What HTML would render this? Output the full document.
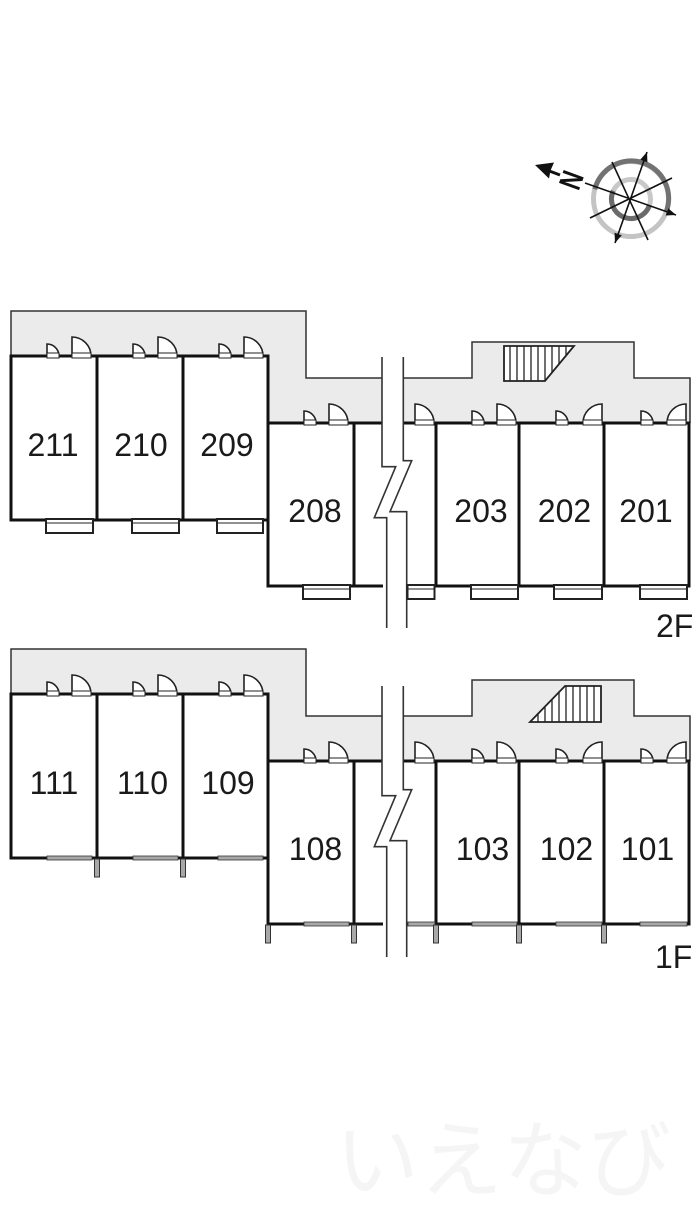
<!DOCTYPE html>
<html><head><meta charset="utf-8"><style>
html,body{margin:0;padding:0;background:#fff;width:700px;height:1208px;overflow:hidden}
svg{display:block}
.lbl{font-family:"Liberation Sans",sans-serif;font-size:32px;fill:#1a1a1a;text-anchor:middle}
.fl{font-family:"Liberation Sans",sans-serif;font-size:32px;fill:#1a1a1a}
</style></head><body>
<svg width="700" height="1208" viewBox="0 0 700 1208" xmlns="http://www.w3.org/2000/svg">
<defs>
<marker id="ah" viewBox="0 0 10 10" refX="10" refY="5" markerWidth="6" markerHeight="6" orient="auto-start-reverse"><path d="M0,1 L10,5 L0,9 z" fill="#111"/></marker>
<clipPath id="st2"><polygon points="504,346 574,346 545,381 504,381"/></clipPath>
<clipPath id="st1"><polygon points="565,686 601,686 601,722 530,722"/></clipPath>
<g id="base">
 <polygon points="11,311 306,311 306,378 382,378 382,423 268,423 268,356 11,356" fill="#ebebeb"/>
 <polygon points="403,378 472,378 472,342 634,342 634,378 690,378 690,423 403,423" fill="#ebebeb"/>
 <polyline points="11,357 11,311 306,311 306,378 383,378" fill="none" stroke="#333" stroke-width="1.5"/>
 <polyline points="403,378 472,378 472,342 634,342 634,378 690,378 690,423" fill="none" stroke="#333" stroke-width="1.5"/>
 <g stroke="#111" stroke-width="3" fill="none">
  <rect x="11" y="356" width="257" height="164"/>
  <line x1="97" y1="356" x2="97" y2="520"/>
  <line x1="183" y1="356" x2="183" y2="520"/>
  <line x1="268" y1="520" x2="268" y2="586"/>
  <line x1="266.5" y1="423" x2="383" y2="423"/>
  <line x1="403" y1="423" x2="690.5" y2="423"/>
  <line x1="266.5" y1="586" x2="383" y2="586"/>
  <line x1="403" y1="586" x2="690.5" y2="586"/>
  <line x1="354" y1="423" x2="354" y2="586"/>
  <line x1="436" y1="423" x2="436" y2="586"/>
  <line x1="519" y1="423" x2="519" y2="586"/>
  <line x1="604" y1="423" x2="604" y2="586"/>
  <line x1="689" y1="423" x2="689" y2="586"/>
 </g>
 <g fill="#fff" stroke="#222" stroke-width="1.6">
  <path d="M47 356 V344 A12 12 0 0 1 59 356 Z"/><rect x="47" y="353" width="12" height="5" stroke-width="1"/>
  <path d="M72 356 V337 A19 19 0 0 1 91 356 Z"/><rect x="72" y="353" width="19" height="5" stroke-width="1"/>
  <path d="M133 356 V344 A12 12 0 0 1 145 356 Z"/><rect x="133" y="353" width="12" height="5" stroke-width="1"/>
  <path d="M158 356 V337 A19 19 0 0 1 177 356 Z"/><rect x="158" y="353" width="19" height="5" stroke-width="1"/>
  <path d="M219 356 V344 A12 12 0 0 1 231 356 Z"/><rect x="219" y="353" width="12" height="5" stroke-width="1"/>
  <path d="M244 356 V337 A19 19 0 0 1 263 356 Z"/><rect x="244" y="353" width="19" height="5" stroke-width="1"/>
  <path d="M304 423 V411 A12 12 0 0 1 316 423 Z"/><rect x="304" y="420" width="12" height="5" stroke-width="1"/>
  <path d="M329 423 V404 A19 19 0 0 1 348 423 Z"/><rect x="329" y="420" width="19" height="5" stroke-width="1"/>
  <path d="M415 423 V404 A19 19 0 0 1 434 423 Z"/><rect x="415" y="420" width="19" height="5" stroke-width="1"/>
  <path d="M472 423 V411 A12 12 0 0 1 484 423 Z"/><rect x="472" y="420" width="12" height="5" stroke-width="1"/>
  <path d="M497 423 V404 A19 19 0 0 1 516 423 Z"/><rect x="497" y="420" width="19" height="5" stroke-width="1"/>
  <path d="M556 423 V411 A12 12 0 0 1 568 423 Z"/><rect x="556" y="420" width="12" height="5" stroke-width="1"/>
  <path d="M602 423 V404 A19 19 0 0 0 583 423 Z"/><rect x="583" y="420" width="19" height="5" stroke-width="1"/>
  <path d="M641 423 V411 A12 12 0 0 1 653 423 Z"/><rect x="641" y="420" width="12" height="5" stroke-width="1"/>
  <path d="M686 423 V404 A19 19 0 0 0 667 423 Z"/><rect x="667" y="420" width="19" height="5" stroke-width="1"/>
 </g>
</g>
<g id="brk">
 <polygon points="382,357 382,466.7 395.7,466.7 374.3,517.7 386.7,517.7 386.7,628 406.7,628 406.7,511.7 390,511.7 411.7,460.7 403.3,460.7 403.3,357" fill="#fff"/>
 <polyline points="382,357 382,466.7 395.7,466.7 374.3,517.7 386.7,517.7 386.7,628" fill="none" stroke="#333" stroke-width="1.6"/>
 <polyline points="403.3,357 403.3,460.7 411.7,460.7 390,511.7 406.7,511.7 406.7,628" fill="none" stroke="#333" stroke-width="1.6"/>
</g>
</defs>

<rect width="700" height="1208" fill="#fff"/>

<!-- watermark -->
<text x="335" y="1190" font-family="'Liberation Sans','Noto Sans CJK JP',sans-serif" font-size="84" fill="#f5f5f5">いえなび</text>

<!-- compass -->
<g>
 <circle cx="631" cy="199" r="37.5" fill="none" stroke="#c4c4c4" stroke-width="5"/>
 <path d="M594.8 189.3 A37.5 37.5 0 1 1 666.2 211.8" fill="none" stroke="#727272" stroke-width="5"/>
 <circle cx="631" cy="199" r="19.5" fill="none" stroke="#c8c8c8" stroke-width="5"/>
 <path d="M649.3 205.7 A19.5 19.5 0 1 1 613.3 190.8" fill="none" stroke="#6a6a6a" stroke-width="5"/>
 <g stroke="#111" stroke-width="1.6">
  <line x1="585" y1="183" x2="676" y2="215" marker-end="url(#ah)"/>
  <line x1="615" y1="243" x2="647" y2="152" marker-start="url(#ah)" marker-end="url(#ah)"/>
  <line x1="612" y1="162" x2="648" y2="240"/>
  <line x1="590" y1="218" x2="672" y2="178"/>
  <line x1="560" y1="175" x2="548" y2="170.5" stroke-width="3"/>
 </g>
 <polygon points="535,165 554,162.5 550.5,170.5 549,178.5" fill="#111"/>
 <g transform="translate(571,180) rotate(-70) scale(0.75,1)">
  <text x="0" y="11" font-family="'Liberation Sans',sans-serif" font-size="31" font-weight="bold" fill="#111" text-anchor="middle">N</text>
 </g>
</g>

<!-- 2F -->
<use href="#base"/>
<use href="#brk"/>
<g fill="#fff" stroke="#222" stroke-width="2">
 <rect x="46" y="519" width="47" height="14"/>
 <rect x="132" y="519" width="47" height="14"/>
 <rect x="217" y="519" width="46" height="14"/>
 <rect x="303" y="585" width="47" height="14"/>
 <rect x="407.5" y="585" width="27" height="14"/>
 <rect x="471" y="585" width="47" height="14"/>
 <rect x="554" y="585" width="48" height="14"/>
 <rect x="640" y="585" width="47" height="14"/>
</g>
<g stroke="#222" stroke-width="1">
 <line x1="46" y1="523" x2="93" y2="523"/>
 <line x1="132" y1="523" x2="179" y2="523"/>
 <line x1="217" y1="523" x2="263" y2="523"/>
 <line x1="303" y1="589" x2="350" y2="589"/>
 <line x1="407.5" y1="589" x2="434.5" y2="589"/>
 <line x1="471" y1="589" x2="518" y2="589"/>
 <line x1="554" y1="589" x2="602" y2="589"/>
 <line x1="640" y1="589" x2="687" y2="589"/>
</g>
<polygon points="504,346 574,346 545,381 504,381" fill="#fff"/>
<g clip-path="url(#st2)" stroke="#222" stroke-width="1.3">
 <line x1="510" y1="346" x2="510" y2="381"/><line x1="517" y1="346" x2="517" y2="381"/>
 <line x1="524" y1="346" x2="524" y2="381"/><line x1="531" y1="346" x2="531" y2="381"/>
 <line x1="538" y1="346" x2="538" y2="381"/><line x1="545" y1="346" x2="545" y2="381"/>
 <line x1="552" y1="346" x2="552" y2="381"/><line x1="559" y1="346" x2="559" y2="381"/>
 <line x1="566" y1="346" x2="566" y2="381"/>
</g>
<polygon points="504,346 574,346 545,381 504,381" fill="none" stroke="#222" stroke-width="1.8"/>

<text class="lbl" x="53" y="456">211</text>
<text class="lbl" x="141" y="456">210</text>
<text class="lbl" x="227" y="456">209</text>
<text class="lbl" x="315" y="522">208</text>
<text class="lbl" x="481" y="522">203</text>
<text class="lbl" x="564.5" y="522">202</text>
<text class="lbl" x="646" y="522">201</text>
<text class="fl" x="656" y="637">2F</text>

<!-- 1F -->
<use href="#base" transform="translate(0,338)"/>
<use href="#brk" transform="translate(0,329)"/>
<g fill="#a8a8a8" stroke="#333" stroke-width="0.8">
 <rect x="47" y="856" width="45" height="4"/>
 <rect x="133" y="856" width="45" height="4"/>
 <rect x="218" y="856" width="45" height="4"/>
 <rect x="304" y="922" width="45" height="4"/>
 <rect x="408" y="922" width="27" height="4"/>
 <rect x="472" y="922" width="45" height="4"/>
 <rect x="556" y="922" width="46" height="4"/>
 <rect x="640" y="922" width="47" height="4"/>
</g>
<g fill="#a8a8a8" stroke="#333" stroke-width="1">
 <rect x="94.5" y="859" width="5" height="18"/>
 <rect x="180.5" y="859" width="5" height="18"/>
 <rect x="265.5" y="925" width="5" height="18"/>
 <rect x="351.5" y="925" width="5" height="18"/>
 <rect x="433.5" y="925" width="5" height="18"/>
 <rect x="516.5" y="925" width="5" height="18"/>
 <rect x="601.5" y="925" width="5" height="18"/>
</g>
<polygon points="565,686 601,686 601,722 530,722" fill="#fff"/>
<g clip-path="url(#st1)" stroke="#222" stroke-width="1.3">
 <line x1="538" y1="686" x2="538" y2="722"/><line x1="545" y1="686" x2="545" y2="722"/>
 <line x1="552" y1="686" x2="552" y2="722"/><line x1="559" y1="686" x2="559" y2="722"/>
 <line x1="566" y1="686" x2="566" y2="722"/><line x1="573" y1="686" x2="573" y2="722"/>
 <line x1="580" y1="686" x2="580" y2="722"/><line x1="587" y1="686" x2="587" y2="722"/>
 <line x1="594" y1="686" x2="594" y2="722"/>
</g>
<polygon points="565,686 601,686 601,722 530,722" fill="none" stroke="#222" stroke-width="1.8"/>

<text class="lbl" x="54" y="794">111</text>
<text class="lbl" x="142.5" y="794">110</text>
<text class="lbl" x="228" y="794">109</text>
<text class="lbl" x="315.5" y="860">108</text>
<text class="lbl" x="482.5" y="860">103</text>
<text class="lbl" x="566.5" y="860">102</text>
<text class="lbl" x="647.5" y="860">101</text>
<text class="fl" x="655" y="968">1F</text>
</svg>
</body></html>
